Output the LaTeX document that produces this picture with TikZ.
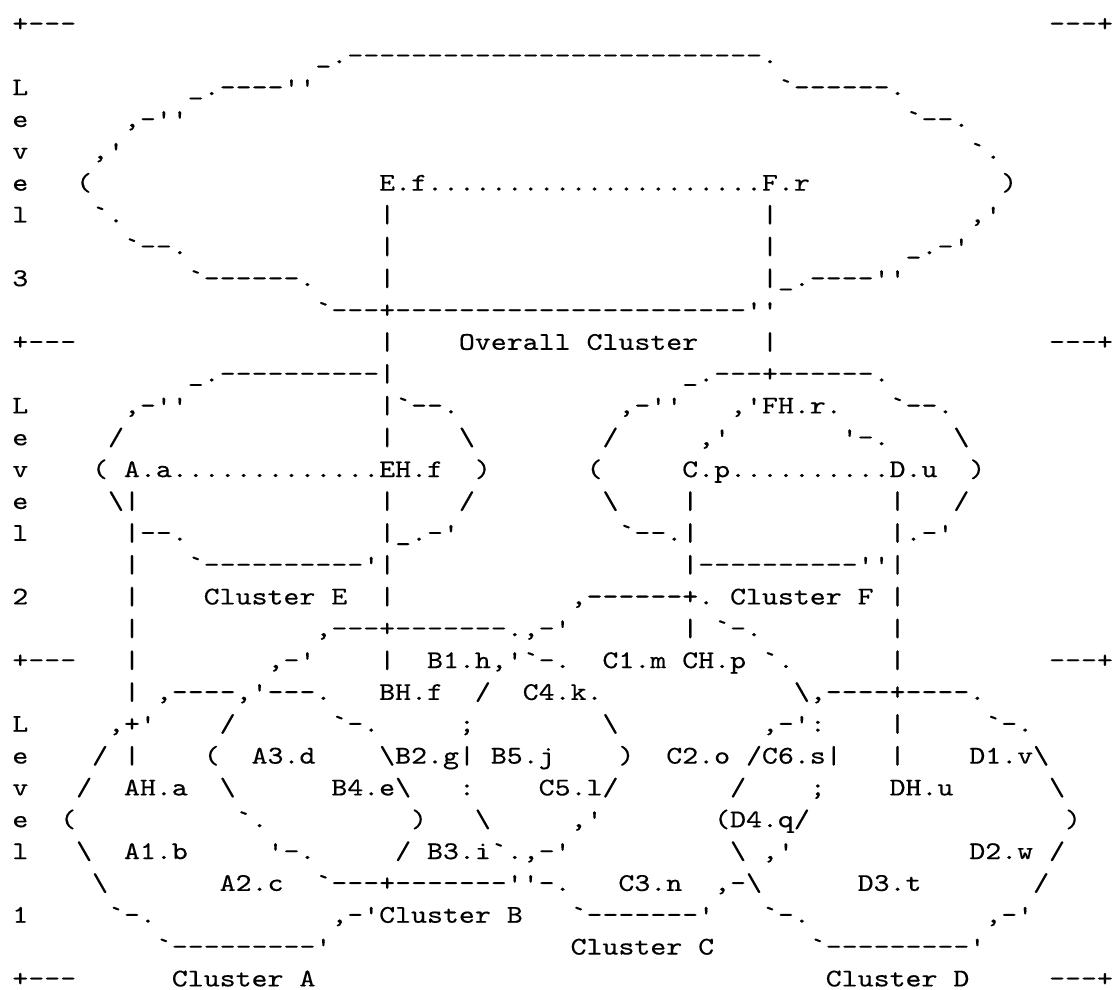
\documentclass[tikz,border=0pt]{standalone}
\usepackage{fontspec}
\setmonofont{lmmono10-regular.otf}[FakeStretch=1.1924, FakeBold=0.4]
\usepackage{tikz}
\newcommand\asciifont{\ttfamily\fontsize{14.5pt}{17pt}\selectfont
  \spaceskip=\fontcharwd\font`x\relax\xspaceskip=\spaceskip}
\tikzset{ascii/.style={anchor=base west, inner sep=0pt, font=\asciifont}}

\begin{document}
\begin{tikzpicture}[x=0.319cm, y=-0.6366cm]
\useasboundingbox (-0.752,0.0104) rectangle (69.28,31.113);
\fill[white] (-0.752,0.0104) rectangle (69.28,31.113);
\node[ascii] (r1a) at (0,1) {+---};
\node[ascii] (r1b) at (65,1) {---+};
\node[ascii] (r2a) at (19,2) {\_.--------------------------.};
\node[ascii] (r3a) at (0,3) {L};
\node[ascii] (r3b) at (11,3) {\_.----''};
\node[ascii] (r3c) at (48,3) {`------.};
\node[ascii] (r4a) at (0,4) {e};
\node[ascii] (r4b) at (7,4) {,-''};
\node[ascii] (r4c) at (56,4) {`--.};
\node[ascii] (r5a) at (0,5) {v};
\node[ascii] (r5b) at (5,5) {,'};
\node[ascii] (r5c) at (60,5) {`.};
\node[ascii] (r6a) at (0,6) {e};
\node[ascii] (r6b) at (4,6) {(};
\node[ascii] (r6c) at (23,6) {E.f.....................F.r};
\node[ascii] (r6d) at (62,6) {)};
\node[ascii] (r7a) at (0,7) {l};
\node[ascii] (r7b) at (5,7) {`.};
\node[ascii] (r7c) at (23,7) {|};
\node[ascii] (r7d) at (47,7) {|};
\node[ascii] (r7e) at (60,7) {,'};
\node[ascii] (r8a) at (7,8) {`--.};
\node[ascii] (r8b) at (23,8) {|};
\node[ascii] (r8c) at (47,8) {|};
\node[ascii] (r8d) at (56,8) {\_.-'};
\node[ascii] (r9a) at (0,9) {3};
\node[ascii] (r9b) at (11,9) {`------.};
\node[ascii] (r9c) at (23,9) {|};
\node[ascii] (r9d) at (47,9) {|\_.----''};
\node[ascii] (r10a) at (19,10) {`---+----------------------''};
\node[ascii] (r11a) at (0,11) {+---};
\node[ascii] (r11b) at (23,11) {|};
\node[ascii] (r11c) at (28,11) {Overall Cluster};
\node[ascii] (r11d) at (47,11) {|};
\node[ascii] (r11e) at (65,11) {---+};
\node[ascii] (r12a) at (11,12) {\_.----------|};
\node[ascii] (r12b) at (42,12) {\_.---+------.};
\node[ascii] (r13a) at (0,13) {L};
\node[ascii] (r13b) at (7,13) {,-''};
\node[ascii] (r13c) at (23,13) {|`--.};
\node[ascii] (r13d) at (38,13) {,-''};
\node[ascii] (r13e) at (45,13) {,'FH.r.};
\node[ascii] (r13f) at (55,13) {`--.};
\node[ascii] (r14a) at (0,14) {e};
\node[ascii] (r14b) at (6,14) {/};
\node[ascii] (r14c) at (23,14) {|};
\node[ascii] (r14d) at (28,14) {\textbackslash};
\node[ascii] (r14e) at (37,14) {/};
\node[ascii] (r14f) at (43,14) {,'};
\node[ascii] (r14g) at (52,14) {'-.};
\node[ascii] (r14h) at (59,14) {\textbackslash};
\node[ascii] (r15a) at (0,15) {v};
\node[ascii] (r15b) at (5,15) {( A.a.............EH.f};
\node[ascii] (r15c) at (29,15) {)};
\node[ascii] (r15d) at (36,15) {(};
\node[ascii] (r15e) at (42,15) {C.p..........D.u};
\node[ascii] (r15f) at (60,15) {)};
\node[ascii] (r16a) at (0,16) {e};
\node[ascii] (r16b) at (6,16) {\textbackslash|};
\node[ascii] (r16c) at (23,16) {|};
\node[ascii] (r16d) at (28,16) {/};
\node[ascii] (r16e) at (37,16) {\textbackslash};
\node[ascii] (r16f) at (42,16) {|};
\node[ascii] (r16g) at (55,16) {|};
\node[ascii] (r16h) at (59,16) {/};
\node[ascii] (r17a) at (0,17) {l};
\node[ascii] (r17b) at (7,17) {|--.};
\node[ascii] (r17c) at (23,17) {|\_.-'};
\node[ascii] (r17d) at (38,17) {`--.|};
\node[ascii] (r17e) at (55,17) {|.-'};
\node[ascii] (r18a) at (7,18) {|};
\node[ascii] (r18b) at (11,18) {`----------'|};
\node[ascii] (r18c) at (42,18) {|----------''|};
\node[ascii] (r19a) at (0,19) {2};
\node[ascii] (r19b) at (7,19) {|};
\node[ascii] (r19c) at (12,19) {Cluster E};
\node[ascii] (r19d) at (23,19) {|};
\node[ascii] (r19e) at (35,19) {,------+.};
\node[ascii] (r19f) at (45,19) {Cluster F};
\node[ascii] (r19g) at (55,19) {|};
\node[ascii] (r20a) at (7,20) {|};
\node[ascii] (r20b) at (19,20) {,---+-------.,-'};
\node[ascii] (r20c) at (42,20) {|};
\node[ascii] (r20d) at (44,20) {`-.};
\node[ascii] (r20e) at (55,20) {|};
\node[ascii] (r21a) at (0,21) {+---};
\node[ascii] (r21b) at (7,21) {|};
\node[ascii] (r21c) at (16,21) {,-'};
\node[ascii] (r21d) at (23,21) {|};
\node[ascii] (r21e) at (26,21) {B1.h,'`-.};
\node[ascii] (r21f) at (37,21) {C1.m CH.p};
\node[ascii] (r21g) at (47,21) {`.};
\node[ascii] (r21h) at (55,21) {|};
\node[ascii] (r21i) at (65,21) {---+};
\node[ascii] (r22a) at (7,22) {|};
\node[ascii] (r22b) at (9,22) {,----,'---.};
\node[ascii] (r22c) at (23,22) {BH.f};
\node[ascii] (r22d) at (29,22) {/};
\node[ascii] (r22e) at (32,22) {C4.k.};
\node[ascii] (r22f) at (49,22) {\textbackslash,----+----.};
\node[ascii] (r23a) at (0,23) {L};
\node[ascii] (r23b) at (6,23) {,+'};
\node[ascii] (r23c) at (13,23) {/};
\node[ascii] (r23d) at (20,23) {`-.};
\node[ascii] (r23e) at (28,23) {;};
\node[ascii] (r23f) at (37,23) {\textbackslash};
\node[ascii] (r23g) at (47,23) {,-':};
\node[ascii] (r23h) at (55,23) {|};
\node[ascii] (r23i) at (61,23) {`-.};
\node[ascii] (r24a) at (0,24) {e};
\node[ascii] (r24b) at (5,24) {/};
\node[ascii] (r24c) at (7,24) {|};
\node[ascii] (r24d) at (12,24) {(};
\node[ascii] (r24e) at (15,24) {A3.d};
\node[ascii] (r24f) at (23,24) {\textbackslash B2.g|};
\node[ascii] (r24g) at (30,24) {B5.j};
\node[ascii] (r24h) at (38,24) {)};
\node[ascii] (r24i) at (41,24) {C2.o};
\node[ascii] (r24j) at (46,24) {/C6.s|};
\node[ascii] (r24k) at (55,24) {|};
\node[ascii] (r24l) at (60,24) {D1.v\textbackslash};
\node[ascii] (r25a) at (0,25) {v};
\node[ascii] (r25b) at (4,25) {/};
\node[ascii] (r25c) at (7,25) {AH.a};
\node[ascii] (r25d) at (13,25) {\textbackslash};
\node[ascii] (r25e) at (20,25) {B4.e\textbackslash};
\node[ascii] (r25f) at (28,25) {:};
\node[ascii] (r25g) at (33,25) {C5.l/};
\node[ascii] (r25h) at (45,25) {/};
\node[ascii] (r25i) at (50,25) {;};
\node[ascii] (r25j) at (55,25) {DH.u};
\node[ascii] (r25k) at (65,25) {\textbackslash};
\node[ascii] (r26a) at (0,26) {e};
\node[ascii] (r26b) at (3,26) {(};
\node[ascii] (r26c) at (14,26) {`.};
\node[ascii] (r26d) at (25,26) {)};
\node[ascii] (r26e) at (29,26) {\textbackslash};
\node[ascii] (r26f) at (35,26) {,'};
\node[ascii] (r26g) at (44,26) {(D4.q/};
\node[ascii] (r26h) at (66,26) {)};
\node[ascii] (r27a) at (0,27) {l};
\node[ascii] (r27b) at (4,27) {\textbackslash};
\node[ascii] (r27c) at (7,27) {A1.b};
\node[ascii] (r27d) at (16,27) {'-.};
\node[ascii] (r27e) at (24,27) {/};
\node[ascii] (r27f) at (26,27) {B3.i`.,-'};
\node[ascii] (r27g) at (45,27) {\textbackslash};
\node[ascii] (r27h) at (47,27) {,'};
\node[ascii] (r27i) at (60,27) {D2.w};
\node[ascii] (r27j) at (65,27) {/};
\node[ascii] (r28a) at (5,28) {\textbackslash};
\node[ascii] (r28b) at (13,28) {A2.c};
\node[ascii] (r28c) at (19,28) {`---+-------''-.};
\node[ascii] (r28d) at (38,28) {C3.n};
\node[ascii] (r28e) at (44,28) {,-\textbackslash};
\node[ascii] (r28f) at (53,28) {D3.t};
\node[ascii] (r28g) at (64,28) {/};
\node[ascii] (r29a) at (0,29) {1};
\node[ascii] (r29b) at (6,29) {`-.};
\node[ascii] (r29c) at (20,29) {,-'Cluster B};
\node[ascii] (r29d) at (35,29) {`-------'};
\node[ascii] (r29e) at (47,29) {`-.};
\node[ascii] (r29f) at (61,29) {,-'};
\node[ascii] (r30a) at (9,30) {`---------'};
\node[ascii] (r30b) at (35,30) {Cluster C};
\node[ascii] (r30c) at (50,30) {`---------'};
\node[ascii] (r31a) at (0,31) {+---};
\node[ascii] (r31b) at (10,31) {Cluster A};
\node[ascii] (r31c) at (51,31) {Cluster D};
\node[ascii] (r31d) at (65,31) {---+};
\end{tikzpicture}
\end{document}
